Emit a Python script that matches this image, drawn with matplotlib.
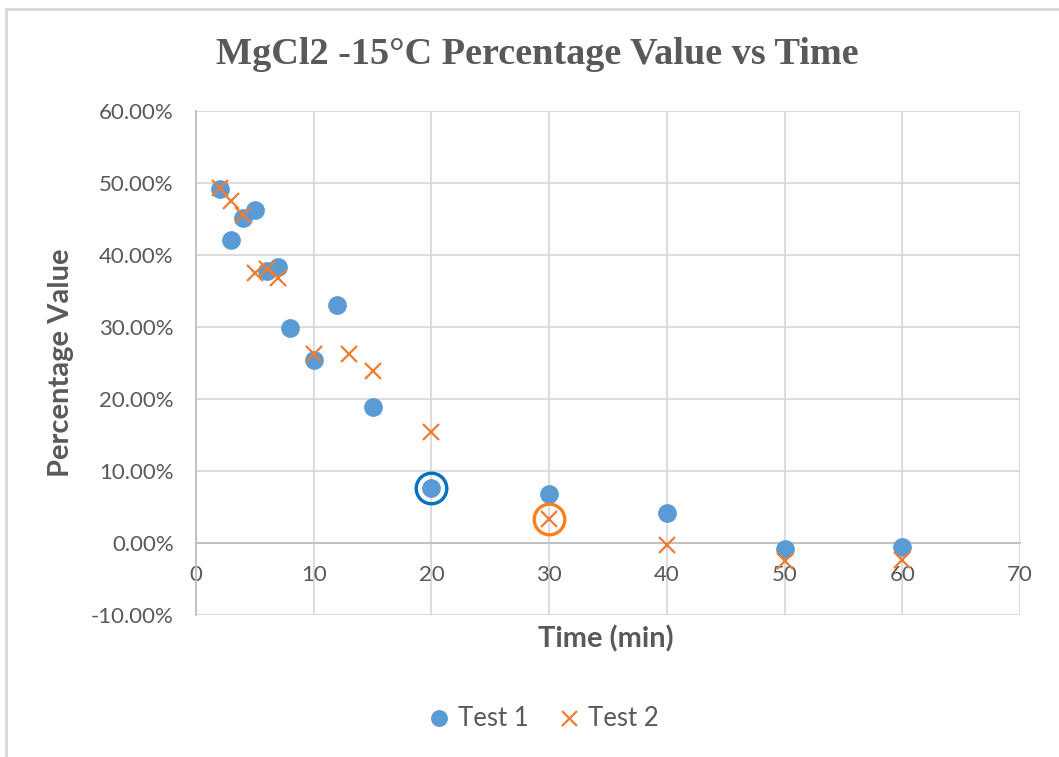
import matplotlib.pyplot as plt
from matplotlib.lines import Line2D
from matplotlib.ticker import PercentFormatter

# Test 1 / Test 2 readings (time in min, value in %)
test1_time = [2, 3, 4, 5, 6, 7, 8, 10, 12, 15, 20, 30, 40, 50, 60]
test1_value = [49.2, 42.1, 45.1, 46.2, 37.8, 38.4, 29.9, 25.4, 33.1, 18.9, 7.6, 6.8, 4.1, -0.8, -0.6]

test2_time = [2, 3, 4, 5, 6, 7, 10, 13, 15, 20, 30, 40, 50, 60]
test2_value = [49.3, 47.5, 45.5, 37.5, 38.0, 36.8, 26.3, 26.3, 23.9, 15.4, 3.3, -0.3, -2.5, -2.3]

# circled points
ring1_time, ring1_value = [20], [7.6]
ring2_time, ring2_value = [30], [3.3]

x_ticks = [0, 10, 20, 30, 40, 50, 60, 70]
y_ticks = [-10, 0, 10, 20, 30, 40, 50, 60]

BLUE = '#5B9BD5'
ORANGE = '#ED7D31'
GREY = '#595959'
plt.rcParams['font.family'] = ['Lato', 'DejaVu Sans']
plt.rcParams['axes.unicode_minus'] = False

fig = plt.figure(figsize=(10.59, 7.57), dpi=100)
ax = fig.add_axes([196 / 1059, 1 - 615 / 757, 824 / 1059, 504 / 757])

ax.plot(test1_time, test1_value, 'o', color=BLUE, ms=13.5, mec='none', label='Test 1', zorder=3)
ax.plot(test2_time, test2_value, 'x', color=ORANGE, ms=12, mew=1.6, label='Test 2', zorder=4)
ax.plot(ring1_time, ring1_value, 'o', mfc='none', mec='#0070C0', ms=22, mew=2.4, zorder=5)
ax.plot(ring2_time, ring2_value, 'o', mfc='none', mec='#FF7F1A', ms=22, mew=2.4, zorder=5)

ax.set_xlim(0, 70)
ax.set_ylim(-10, 60)
ax.set_xticks(x_ticks)
ax.set_yticks(y_ticks)
ax.yaxis.set_major_formatter(PercentFormatter(decimals=2))
ax.grid(True, color='#D9D9D9', lw=1.3)
ax.set_axisbelow(True)

for s in ['top', 'right']:
    ax.spines[s].set_visible(False)
ax.spines['bottom'].set_position(('data', 0))
ax.spines['bottom'].set_color('#BFBFBF')
ax.spines['left'].set_color('#BFBFBF')
ax.spines['bottom'].set_linewidth(1.3)
ax.spines['left'].set_linewidth(1.3)

ax.tick_params(axis='both', length=0, labelsize=16, labelcolor=GREY)
ax.tick_params(axis='x', pad=16)
ax.tick_params(axis='y', pad=16)

ax.set_xlabel('Time (min)', fontsize=21, fontweight='bold', color=GREY)
ax.set_ylabel('Percentage Value', fontsize=21, fontweight='bold', color=GREY)
ax.xaxis.set_label_coords(0.497, -0.02)
ax.yaxis.set_label_coords(-0.148, 0.5)

fig.text(537 / 1059, 1 - 54 / 757, 'MgCl2 -15°C Percentage Value vs Time', ha='center', va='center',
         fontsize=27.5, fontweight='bold', color=GREY, family='Liberation Serif')

fig.legend(loc='center', bbox_to_anchor=(0.513, 1 - 719 / 757), ncol=2, frameon=False,
           fontsize=18.5, labelcolor=GREY, handlelength=0.9, handletextpad=0.3,
           columnspacing=1.1, markerscale=0.9)

# outer chart frame (cropped)
fig.add_artist(Line2D([6 / 1059, 1], [1 - 9 / 757, 1 - 9 / 757], color='#D9D9D9', lw=2))
fig.add_artist(Line2D([6 / 1059, 6 / 1059], [0, 1 - 9 / 757], color='#D9D9D9', lw=2))

fig.savefig('out.png', dpi=100)
